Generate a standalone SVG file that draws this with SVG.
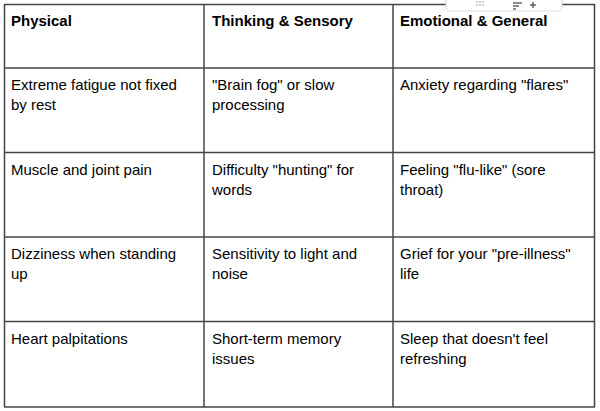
<svg xmlns="http://www.w3.org/2000/svg" width="600" height="411" viewBox="0 0 600 411">
<style>
.g line{stroke:#444;stroke-width:1.5}
text{font-family:"Liberation Sans",Arial,sans-serif;font-size:15px;fill:#000}
.h{font-weight:bold}
</style>
<rect width="600" height="411" fill="#fff"/>
<g class="g" id="grid">
<line x1="4" y1="4.5" x2="595" y2="4.5"/>
<line x1="4" y1="68" x2="595" y2="68"/>
<line x1="4" y1="152.5" x2="595" y2="152.5"/>
<line x1="4" y1="237" x2="595" y2="237"/>
<line x1="4" y1="321.5" x2="595" y2="321.5"/>
<line x1="4" y1="407" x2="595" y2="407"/>
<line x1="4.5" y1="4" x2="4.5" y2="407"/>
<line x1="204" y1="4" x2="204" y2="407"/>
<line x1="393" y1="4" x2="393" y2="407"/>
<line x1="594.5" y1="4" x2="594.5" y2="407"/>
</g>
<g id="toolbar">
<rect x="446" y="-4" width="116" height="15" rx="4" fill="#fff" stroke="#ddd"/>
<g fill="#bbb"><circle cx="477" cy="2" r="0.9"/><circle cx="480" cy="2" r="0.9"/><circle cx="483" cy="2" r="0.9"/><circle cx="477" cy="5" r="0.9"/><circle cx="480" cy="5" r="0.9"/><circle cx="483" cy="5" r="0.9"/></g>
<g stroke="#444" stroke-width="1.2"><line x1="513" y1="3" x2="522" y2="3"/><line x1="513" y1="6" x2="519" y2="6"/><line x1="513" y1="9" x2="516" y2="9"/><line x1="530" y1="5" x2="536" y2="5"/><line x1="533" y1="2" x2="533" y2="8"/></g>
</g>
<g id="header">
<text class="h" x="11" y="26">Physical</text>
<text class="h" x="212" y="26">Thinking &amp; Sensory</text>
<text class="h" x="400" y="26">Emotional &amp; General</text>
</g>
<g id="row1">
<text x="11" y="90">Extreme fatigue not fixed</text><text x="11" y="110">by rest</text>
<text x="212" y="90">"Brain fog" or slow</text><text x="212" y="110">processing</text>
<text x="400" y="90">Anxiety regarding "flares"</text>
</g>
<g id="row2">
<text x="11" y="175">Muscle and joint pain</text>
<text x="212" y="175">Difficulty "hunting" for</text><text x="212" y="195">words</text>
<text x="400" y="175">Feeling "flu-like" (sore</text><text x="400" y="195">throat)</text>
</g>
<g id="row3">
<text x="11" y="259">Dizziness when standing</text><text x="11" y="279">up</text>
<text x="212" y="259">Sensitivity to light and</text><text x="212" y="279">noise</text>
<text x="400" y="259">Grief for your "pre-illness"</text><text x="400" y="279">life</text>
</g>
<g id="row4">
<text x="11" y="344">Heart palpitations</text>
<text x="212" y="344">Short-term memory</text><text x="212" y="364">issues</text>
<text x="400" y="344">Sleep that doesn't feel</text><text x="400" y="364">refreshing</text>
</g>
</svg>
